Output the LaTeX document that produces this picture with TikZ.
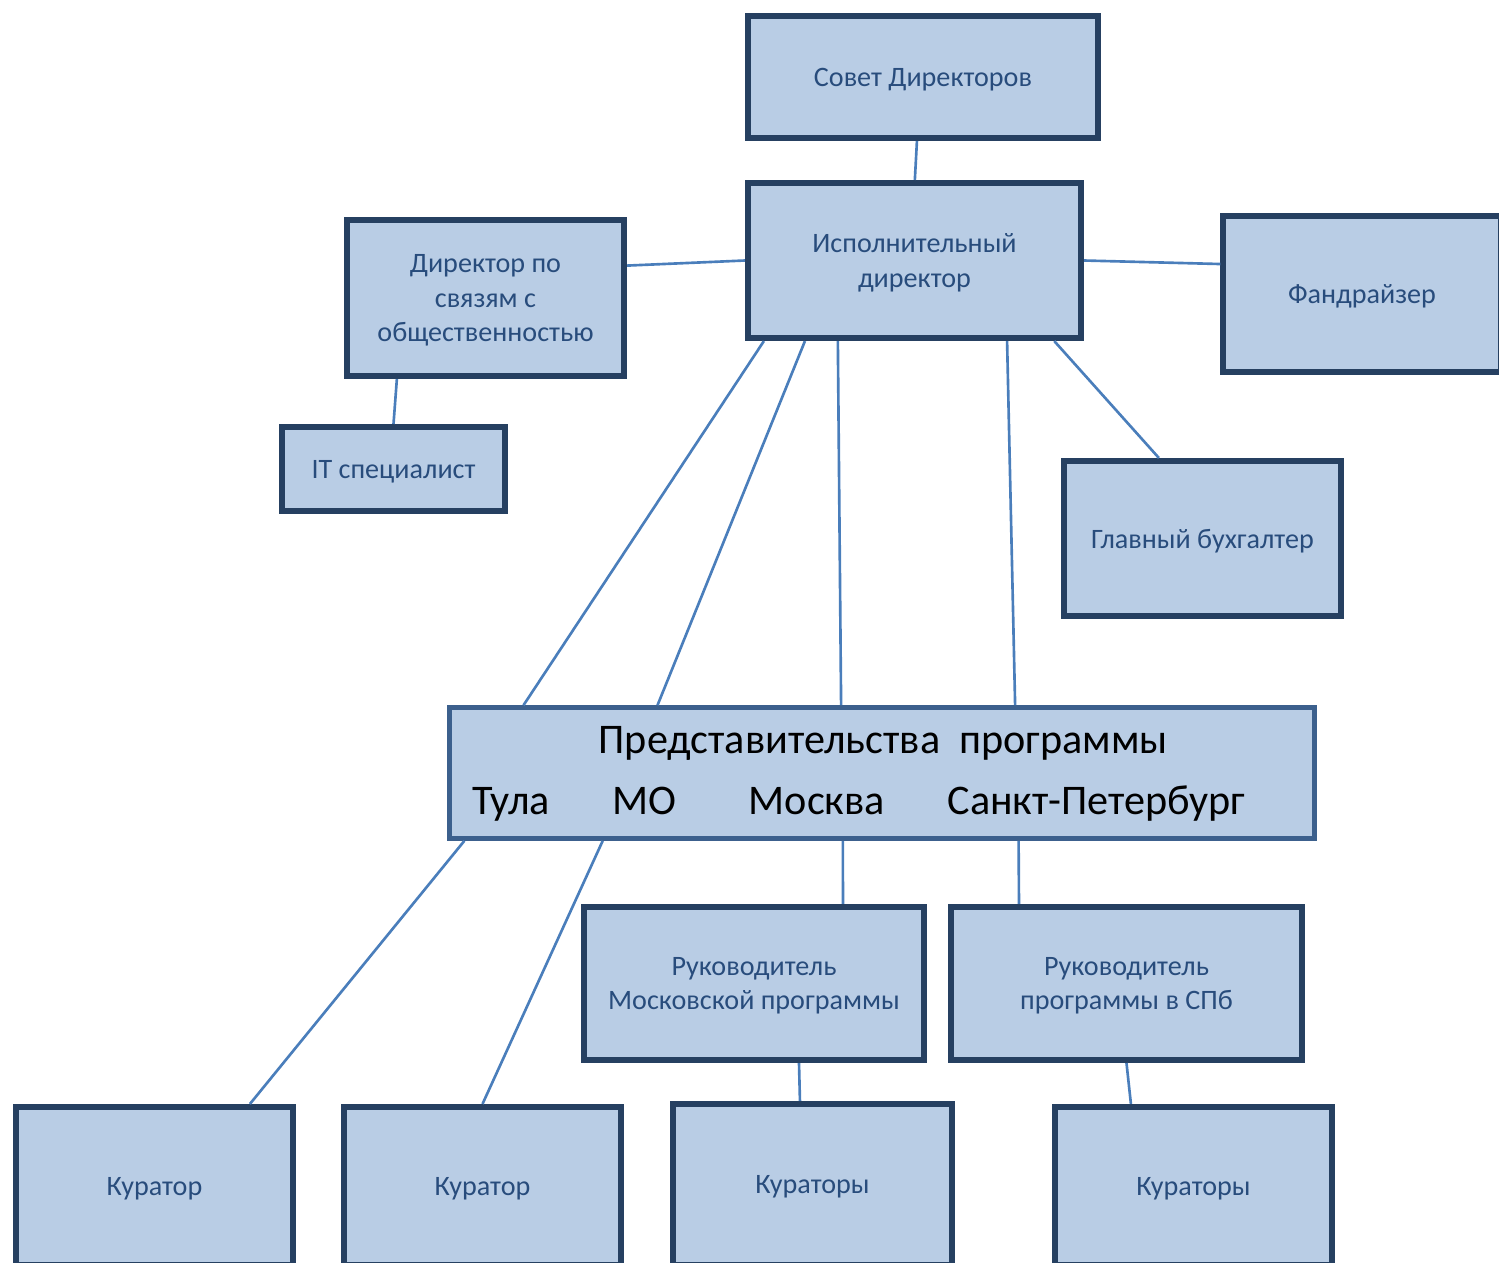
\documentclass[tikz,border=0pt]{standalone}
\usepackage{fontspec}
\setmainfont{Carlito}
\usetikzlibrary{calc}

\definecolor{boxfill}{RGB}{185,205,229}
\definecolor{boxline}{RGB}{38,64,97}
\definecolor{officeline}{RGB}{60,96,141}
\definecolor{linkline}{RGB}{74,126,187}
\definecolor{boxtext}{RGB}{40,76,124}

\begin{document}
\begin{tikzpicture}[
    x=0.01cm, y=-0.01cm, % one unit per pixel, y downwards
    % Define node style
    box style/.style={
        draw=boxline, % Dark border
        fill=boxfill, % Light blue fill
        line width=1.7pt, % Heavy border
        rectangle, % Rectangle shape
        minimum width=2.77cm, % Minimum width
        minimum height=1.56cm, % Minimum height
        inner sep=0pt,
        text depth=0pt,
        align=center, % Center alignment
        text=boxtext,
        font=\fontsize{8}{9.7}\selectfont
      },
    % Define office box style
    office style/.style={
        box style,
        draw=officeline,
        line width=1.3pt
      },
    % Define big text style
    big text/.style={
        anchor=base west,
        inner sep=0pt,
        text=black,
        font=\fontsize{12}{14}\selectfont
      },
    % Define link style
    link/.style={draw=linkline, line width=0.75pt}
  ]

  \useasboundingbox (0,0) rectangle (1499,1263);
  \clip (0,0) rectangle (1499,1263);

  % Define nodes
  \node[box style, minimum width=3.5cm, minimum height=1.22cm] (Board) at (923,77) {Совет Директоров}; % top
  \node[box style, minimum width=3.33cm, minimum height=1.55cm] (Exec) at (914.5,260.5) {Исполнительный\\директор};
  \node[box style] (PR) at (485.5,298) {Директор по\\связям с\\общественностью};
  \node[box style, minimum width=2.23cm, minimum height=0.84cm] (IT) at (393.5,469) {IT специалист};
  \node[box style] (Fund) at (1362,294) {Фандрайзер}; % runs off the right edge
  \node[box style, minimum height=1.55cm] (Acct) at (1202.5,538.5) {Главный бухгалтер};

  % Offices box with its own texts
  \node[office style, minimum width=8.65cm, minimum height=1.31cm] (Offices) at (882,773) {};
  \node[big text] (OfficesTitle) at (598,753) {Представительства\ \ программы};
  \node[big text] (Tula) at (472,814) {Тула};
  \node[big text] (MO) at (612,814) {МО};
  \node[big text] (Moscow) at (748,814) {Москва};
  \node[big text] (SPb) at (947,814) {Санкт-Петербург};

  \node[box style, minimum width=3.4cm, minimum height=1.53cm] (MoscHead) at (754,983.5) {Руководитель\\Московской программы};
  \node[box style, minimum width=3.51cm, minimum height=1.53cm] (SPbHead) at (1126.5,983.5) {Руководитель\\программы в СПб};

  % Curators, cut off by the bottom edge
  \node[box style, minimum height=1.58cm] (CurTula) at (154.5,1186) {Куратор};
  \node[box style, minimum height=1.58cm] (CurMO) at (482.5,1186) {Куратор};
  \node[box style, minimum width=2.79cm, minimum height=1.61cm] (CurMoscow) at (812.5,1184.5) {Кураторы};
  \node[box style, minimum height=1.58cm] (CurSPb) at (1193.5,1186) {Кураторы};

  % Draw links
  \draw[link] ($(Board.south west)!.483!(Board.south east)$) -- ($(Exec.north west)!.501!(Exec.north east)$);
  \draw[link] ($(PR.north east)!.3!(PR.south east)$) -- (Exec.west);
  \draw[link] ($(PR.south west)!.187!(PR.south east)$) -- (IT.north);
  \draw[link] (Exec.east) -- ($(Fund.north west)!.315!(Fund.south west)$);
  \draw[link] ($(Exec.south west)!.912!(Exec.south east)$) -- ($(Acct.north west)!.346!(Acct.north east)$);

  % Exec to offices
  \draw[link] ($(Exec.south west)!.056!(Exec.south east)$) -- ($(Offices.north west)!.088!(Offices.north east)$);
  \draw[link] ($(Exec.south west)!.177!(Exec.south east)$) -- ($(Offices.north west)!.242!(Offices.north east)$);
  \draw[link] ($(Exec.south west)!.274!(Exec.south east)$) -- ($(Offices.north west)!.453!(Offices.north east)$);
  \draw[link] ($(Exec.south west)!.773!(Exec.south east)$) -- ($(Offices.north west)!.653!(Offices.north east)$);

  % Offices to the level below
  \draw[link] ($(Offices.south west)!.02!(Offices.south east)$) -- ($(CurTula.north west)!.837!(CurTula.north east)$);
  \draw[link] ($(Offices.south west)!.179!(Offices.south east)$) -- (CurMO.north);
  \draw[link] ($(Offices.south west)!.455!(Offices.south east)$) -- ($(MoscHead.north west)!.757!(MoscHead.north east)$);
  \draw[link] ($(Offices.south west)!.657!(Offices.south east)$) -- ($(SPbHead.north west)!.199!(SPbHead.north east)$);

  % Heads to curators
  \draw[link] ($(MoscHead.south west)!.63!(MoscHead.south east)$) -- ($(CurMoscow.north west)!.456!(CurMoscow.north east)$);
  \draw[link] (SPbHead.south) -- ($(CurSPb.north west)!.279!(CurSPb.north east)$);

\end{tikzpicture}
\end{document}
